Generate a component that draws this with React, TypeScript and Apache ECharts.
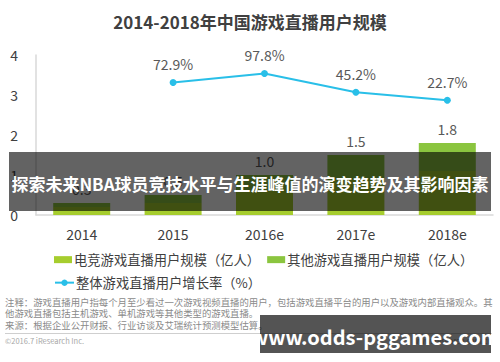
import React, { useEffect, useRef } from "react";
import * as echarts from "echarts";

const categories = ["2014", "2015", "2016e", "2017e", "2018e"];
const esportsUsers = [0.2, 0.3, 0.6, 0.9, 1.1];
const otherUsers = [0.1, 0.2, 0.4, 0.6, 0.7];
const growthRate = [null, 72.9, 97.8, 45.2, 22.7];
const yTicks = [0, 1, 2, 3, 4];

const titleText = "2014-2018年中国游戏直播用户规模";
const seriesNames = ["电竞游戏直播用户规模（亿人）", "其他游戏直播用户规模（亿人）", "整体游戏直播用户增长率（%）"];
const noteLines = [
  "注释：游戏直播用户指每个月至少看过一次游戏视频直播的用户，包括游戏直播平台的用户以及游戏内部直播观众。其",
  "他游戏直播包括主机游戏、单机游戏等其他类型的游戏直播。",
  "来源：根据企业公开财报、行业访谈及艾瑞统计预测模型估算。",
];
const copyrightText = "©2016.7 iResearch Inc.";
const siteText = "www.iresearch.com.cn";
const overlayText = "探索未来NBA球员竞技水平与生涯峰值的演变趋势及其影响因素";
const watermarkText = "www.odds-pggames.com";

const FONT = "'Noto Sans CJK SC', 'Noto Sans', sans-serif";

export default function App() {
  const ref = useRef<HTMLDivElement>(null);
  useEffect(() => {
    document.body.style.margin = "0";
    const chart = echarts.init(ref.current!, null, { renderer: "svg" });
    const totals = esportsUsers.map((v, i) => +(v + otherUsers[i]).toFixed(1));
    chart.setOption({
      animation: false,
      backgroundColor: "#ffffff",
      textStyle: { fontFamily: FONT },
      title: {
        text: titleText,
        left: "center",
        top: 8,
        textStyle: { fontSize: 17, fontWeight: "bold", color: "#404040", fontFamily: FONT },
      },
      legend: [
        {
          data: [seriesNames[0], seriesNames[1]],
          left: 49,
          top: 248,
          itemWidth: 18,
          itemHeight: 7,
          itemGap: 7,
          icon: "rect",
          textStyle: { fontSize: 13.3, color: "#404040", fontFamily: FONT, padding: [0, 0, 0, -3] },
        },
        {
          data: [seriesNames[2]],
          left: 49,
          top: 271,
          itemWidth: 19,
          itemHeight: 8,
          textStyle: { fontSize: 13.3, color: "#404040", fontFamily: FONT, padding: [0, 0, 0, -3] },
        },
      ],
      grid: { left: 36, right: 7, top: 55, bottom: 147 },
      xAxis: {
        type: "category",
        data: categories,
        axisLine: { lineStyle: { color: "#d9d9d9", width: 1.5 } },
        axisTick: { show: false },
        axisLabel: { fontSize: 14, color: "#404040", margin: 12, fontFamily: FONT },
      },
      yAxis: [
        {
          type: "value",
          min: yTicks[0],
          max: yTicks[yTicks.length - 1],
          interval: 1,
          axisLine: { show: true, lineStyle: { color: "#d9d9d9", width: 1.5 } },
          axisTick: { show: false },
          splitLine: { show: false },
          axisLabel: { fontSize: 14, color: "#404040", margin: 18, fontFamily: FONT },
        },
        {
          type: "value",
          min: -300,
          max: 150,
          show: false,
          splitLine: { show: false },
        },
      ],
      series: [
        {
          name: seriesNames[0],
          type: "bar",
          stack: "users",
          data: esportsUsers,
          barWidth: 57,
          itemStyle: { color: "#a6cd2e" },
        },
        {
          name: seriesNames[1],
          type: "bar",
          stack: "users",
          data: otherUsers,
          barWidth: 57,
          itemStyle: { color: "#8bc53f" },
          label: {
            show: true,
            position: "top",
            distance: 7,
            fontSize: 14,
            color: "#595959",
            fontFamily: FONT,
            formatter: (p: any) => totals[p.dataIndex].toFixed(1),
          },
        },
        {
          name: seriesNames[2],
          type: "line",
          yAxisIndex: 1,
          data: growthRate,
          symbol: "circle",
          symbolSize: 7,
          lineStyle: { color: "#29bfe8", width: 2 },
          itemStyle: { color: "#29bfe8" },
          label: {
            show: true,
            position: "top",
            distance: 8,
            fontSize: 14,
            color: "#595959",
            fontFamily: FONT,
            formatter: (p: any) => p.value.toFixed(1) + "%",
          },
        },
      ],
      graphic: [
        ...noteLines.map((t, i) => ({
          type: "text",
          left: 5,
          top: 297 + i * 11.7,
          z: 50,
          style: { text: t, fontSize: 9.4, fill: "#8a8a8a", fontFamily: FONT },
        })),
        {
          type: "line",
          z: 50,
          shape: { x1: 5, y1: 333.5, x2: 492, y2: 333.5 },
          style: { stroke: "#cfcfcf", lineWidth: 1 },
        },
        {
          type: "text",
          left: 5,
          top: 337,
          z: 50,
          style: { text: copyrightText, fontSize: 7.5, fill: "#a8a8a8", fontFamily: FONT },
        },
        {
          type: "text",
          right: 8,
          top: 337,
          z: 50,
          style: { text: siteText, fontSize: 7.5, fill: "#a8a8a8", fontFamily: FONT },
        },
        {
          type: "rect",
          z: 100,
          shape: { x: 9, y: 152, width: 482, height: 59 },
          style: { fill: "rgba(0,0,0,0.61)" },
        },
        {
          type: "text",
          z: 101,
          x: 250,
          y: 183,
          style: {
            text: overlayText,
            fontSize: 17,
            fontWeight: "bold",
            fill: "#ffffff",
            fontFamily: FONT,
            align: "center",
            verticalAlign: "middle",
          },
        },
        {
          type: "rect",
          z: 100,
          shape: { x: 260, y: 315, width: 231, height: 38 },
          style: { fill: "rgba(0,0,0,0.67)" },
        },
        {
          type: "text",
          z: 101,
          x: 375.5,
          y: 336,
          style: {
            text: watermarkText,
            fontSize: 20,
            fontWeight: "bold",
            fill: "#ffffff",
            fontFamily: FONT,
            align: "center",
            verticalAlign: "middle",
          },
        },
      ],
    });
    return () => chart.dispose();
  }, []);
  return <div ref={ref} style={{ width: 500, height: 362, position: "absolute", left: 0, top: 0 }} />;
}
